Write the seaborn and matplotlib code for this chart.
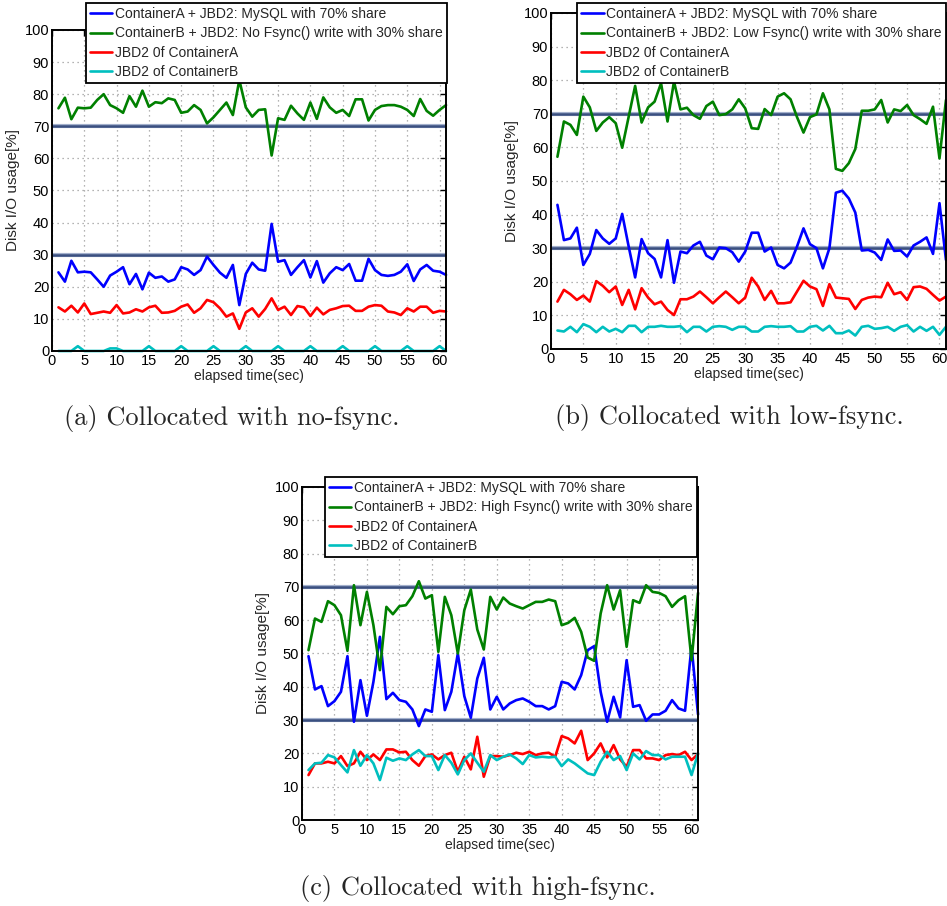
import matplotlib
matplotlib.use("Agg")
import matplotlib.pyplot as plt
import pandas as pd
import seaborn as sns

# elapsed time axis (seconds)
seconds = list(range(1, 62))

series_keys = ["ContainerA", "ContainerB", "JBD2_A", "JBD2_B"]
series_colors = ["#0000FF", "#008000", "#FF0000", "#00BFBF"]

# (a) collocated with no-fsync
a_blue = [24.5, 21.6, 28.1, 24.5, 24.7, 24.5, 22.3, 20.0, 23.5, 24.7,
          26.1, 20.8, 24.0, 19.2, 24.4, 22.8, 23.2, 21.6, 22.3, 26.1,
          25.4, 23.7, 25.2, 29.4, 26.8, 24.4, 22.8, 26.8, 14.3, 24.0,
          27.5, 25.4, 25.0, 39.6, 27.8, 28.3, 23.7, 26.1, 28.3, 22.9,
          28.0, 21.3, 24.2, 26.1, 25.2, 27.1, 21.9, 21.9, 28.7, 25.2,
          23.7, 23.4, 23.7, 24.7, 27.0, 21.8, 25.4, 26.8, 25.0, 24.7, 23.7]
a_green = [75.6, 78.9, 72.2, 75.8, 75.6, 75.8, 78.2, 80.0, 76.6, 75.6,
           74.2, 79.4, 76.1, 81.1, 76.1, 77.5, 77.2, 78.7, 78.2, 74.2,
           74.6, 76.6, 75.1, 70.9, 72.8, 75.1, 77.4, 73.5, 84.4, 75.9,
           73.0, 75.1, 75.3, 60.9, 72.5, 72.0, 76.4, 74.0, 72.0, 77.4,
           72.3, 79.0, 75.9, 74.2, 75.1, 73.2, 78.4, 78.4, 71.8, 75.1,
           76.3, 76.6, 76.6, 76.1, 75.1, 73.2, 78.5, 74.8, 73.3, 75.1, 76.6]
a_red = [13.6, 12.3, 14.1, 12.0, 14.8, 11.5, 11.9, 12.3, 11.9, 14.3,
         11.7, 12.0, 13.0, 12.3, 13.6, 14.1, 11.9, 12.0, 12.5, 13.8,
         14.5, 11.9, 13.3, 15.9, 15.2, 13.3, 10.7, 11.7, 6.9, 12.0,
         13.3, 10.7, 13.1, 16.4, 12.8, 13.8, 11.2, 14.0, 13.6, 10.9,
         13.5, 11.4, 12.8, 13.3, 14.0, 14.1, 12.5, 12.5, 13.8, 14.3,
         14.1, 12.3, 12.0, 11.2, 13.3, 12.3, 13.8, 13.8, 11.9, 12.5, 12.3]
a_cyan = [0, 0, 0, 1.5, 0, 0, 0, 0, 0.8, 0.8,
          0, 0, 0, 0, 1.5, 0, 0, 0, 0, 1.5,
          0, 0, 0, 0, 1.5, 0, 0, 0, 0, 1.5,
          0, 0, 0, 0, 1.5, 0, 0, 0, 0, 1.5,
          0, 0, 0, 0, 1.5, 0, 0, 0, 0, 1.5,
          0, 0, 0, 0, 1.5, 0, 0, 0, 0, 1.5, 0]

# (b) collocated with low-fsync
b_blue = [42.9, 32.4, 32.9, 36.1, 25.0, 28.3, 35.4, 32.9, 31.3, 32.9,
          40.2, 30.5, 21.3, 32.7, 28.5, 26.8, 21.3, 32.4, 19.7, 29.0,
          28.5, 30.8, 31.9, 27.8, 26.7, 30.2, 30.0, 28.8, 26.0, 29.0,
          34.6, 34.6, 29.0, 30.2, 25.0, 24.0, 25.7, 30.5, 35.9, 31.2,
          30.0, 24.0, 30.0, 46.5, 47.1, 44.8, 40.6, 29.3, 29.5, 28.7,
          26.5, 32.6, 29.2, 29.3, 27.5, 30.8, 31.9, 33.2, 28.3, 43.4, 26.5]
b_green = [57.2, 67.7, 66.7, 63.7, 75.1, 71.9, 64.9, 67.4, 69.0, 67.2,
           59.9, 69.1, 78.3, 67.4, 71.9, 73.6, 79.1, 67.7, 79.6, 71.3,
           71.8, 69.6, 68.5, 72.3, 73.6, 69.6, 69.9, 71.3, 74.3, 71.6,
           65.7, 65.5, 71.4, 69.6, 75.1, 76.1, 74.3, 69.0, 64.4, 69.0,
           69.8, 76.1, 71.3, 53.6, 53.0, 55.3, 59.5, 70.9, 70.9, 71.3,
           74.1, 67.4, 71.3, 70.8, 72.6, 69.6, 68.4, 67.0, 72.1, 56.7, 74.1]
b_red = [14.1, 17.6, 16.3, 14.6, 15.9, 14.1, 20.2, 18.8, 16.9, 18.6,
         13.1, 17.6, 11.8, 18.1, 15.3, 13.3, 14.1, 11.6, 10.1, 14.8,
         14.8, 15.6, 17.1, 15.4, 13.6, 15.4, 17.1, 15.4, 13.6, 15.3,
         21.2, 18.6, 14.6, 17.3, 13.6, 13.6, 13.9, 17.1, 20.3, 18.6,
         17.8, 12.8, 19.3, 15.3, 15.1, 14.9, 11.9, 14.6, 15.3, 15.6,
         15.4, 19.7, 16.3, 16.9, 14.6, 18.4, 18.6, 17.9, 16.1, 14.4, 15.6]
b_cyan = [5.5, 5.2, 6.6, 5.0, 7.4, 6.6, 5.0, 6.6, 5.2, 6.0,
          5.0, 6.9, 6.9, 5.0, 6.6, 6.6, 6.9, 6.6, 6.6, 6.8,
          5.0, 6.6, 6.6, 5.2, 6.6, 6.8, 6.6, 5.7, 6.6, 6.6,
          5.2, 5.2, 6.6, 6.8, 6.6, 6.6, 6.8, 5.2, 5.2, 6.6,
          6.9, 5.5, 6.9, 4.7, 4.7, 5.5, 4.0, 6.6, 6.9, 6.0,
          6.2, 6.6, 5.4, 6.6, 7.1, 5.2, 6.6, 5.4, 6.6, 4.2, 6.6]

# (c) collocated with high-fsync
c_blue = [49.2, 39.2, 40.2, 34.2, 35.7, 38.5, 49.2, 29.5, 42.0, 31.3,
          41.5, 55.0, 36.3, 38.2, 36.0, 35.5, 33.2, 28.2, 33.2, 32.5,
          49.5, 33.0, 38.5, 50.0, 37.2, 30.7, 42.5, 48.7, 33.2, 37.0,
          33.2, 35.0, 36.0, 36.5, 35.5, 34.2, 34.2, 33.2, 34.2, 41.5,
          41.0, 39.2, 43.5, 51.0, 52.2, 38.5, 29.5, 37.0, 30.8, 48.0,
          34.0, 34.5, 29.8, 31.7, 31.7, 32.8, 36.0, 33.5, 32.8, 52.2, 31.7]
c_green = [51.0, 60.5, 59.5, 65.7, 64.5, 61.5, 50.8, 70.5, 58.5, 68.5,
           58.5, 45.0, 64.0, 61.8, 64.2, 64.5, 67.2, 71.7, 66.5, 67.5,
           50.5, 67.0, 61.5, 50.0, 63.0, 69.2, 57.2, 51.2, 67.0, 63.2,
           66.8, 65.0, 64.2, 63.5, 64.5, 65.5, 65.5, 66.2, 65.7, 58.5,
           59.2, 60.7, 56.5, 48.8, 47.8, 62.0, 70.5, 63.2, 69.0, 52.0,
           66.0, 65.2, 70.5, 68.5, 68.2, 67.2, 64.0, 66.0, 67.2, 48.0, 68.2]
c_red = [13.5, 17.0, 17.0, 17.5, 17.0, 19.2, 16.2, 17.0, 20.5, 18.0,
         19.7, 18.0, 21.2, 21.2, 20.3, 20.5, 18.0, 16.3, 19.2, 19.7,
         18.2, 19.5, 20.2, 14.5, 19.0, 15.2, 25.0, 13.0, 19.2, 19.2,
         19.0, 19.5, 20.2, 19.8, 20.5, 19.5, 20.0, 20.2, 19.0, 25.2,
         24.5, 23.0, 26.8, 18.0, 20.0, 23.0, 18.8, 22.5, 18.2, 16.0,
         21.0, 21.0, 18.5, 18.5, 18.0, 19.5, 19.8, 19.5, 20.5, 18.0, 19.8]
c_cyan = [15.0, 17.0, 17.2, 19.5, 18.8, 16.5, 14.3, 21.0, 16.3, 19.5,
          17.0, 12.0, 18.7, 17.8, 18.5, 18.0, 19.7, 21.0, 19.2, 19.2,
          15.0, 19.5, 17.2, 13.7, 18.0, 20.0, 17.2, 14.5, 19.5, 18.0,
          19.0, 19.7, 18.5, 16.8, 19.5, 18.8, 19.0, 18.8, 19.0, 16.2,
          18.2, 17.0, 15.5, 14.0, 13.5, 17.5, 20.5, 18.0, 19.2, 15.0,
          20.0, 18.2, 20.7, 19.5, 19.5, 18.2, 19.0, 19.0, 19.0, 13.5, 20.0]

# share targets drawn as reference lines
share_levels = [30, 70]

legend_a = ["ContainerA + JBD2: MySQL with 70% share",
            "ContainerB + JBD2: No Fsync() write with 30% share",
            "JBD2 0f ContainerA",
            "JBD2 of ContainerB"]
legend_b = ["ContainerA + JBD2: MySQL with 70% share",
            "ContainerB + JBD2: Low Fsync() write with 30% share",
            "JBD2 0f ContainerA",
            "JBD2 of ContainerB"]
legend_c = ["ContainerA + JBD2: MySQL with 70% share",
            "ContainerB + JBD2: High Fsync() write with 30% share",
            "JBD2 0f ContainerA",
            "JBD2 of ContainerB"]

captions = ["(a) Collocated with no-fsync.",
            "(b) Collocated with low-fsync.",
            "(c) Collocated with high-fsync."]

x_ticks = list(range(0, 61, 5))
y_ticks = list(range(0, 101, 10))

sns.set_theme(style="white")
plt.rcParams["font.family"] = ["Liberation Sans", "DejaVu Sans"]

fig = plt.figure(figsize=(9.47, 9.06), dpi=100)

panels = [
    dict(rect=[0.0549, 0.6126, 0.4161, 0.3543], data=[a_blue, a_green, a_red, a_cyan],
         labels=legend_a, anchor=(0.472, 0.9967), caption=captions[0], cap_xy=(0.245, 0.5386)),
    dict(rect=[0.5818, 0.6148, 0.4171, 0.3709], data=[b_blue, b_green, b_red, b_cyan],
         labels=legend_b, anchor=(0.999, 0.9967), caption=captions[1], cap_xy=(0.770, 0.5397)),
    dict(rect=[0.3189, 0.0949, 0.4182, 0.3676], data=[c_blue, c_green, c_red, c_cyan],
         labels=legend_c, anchor=(0.736, 0.4735), caption=captions[2], cap_xy=(0.505, 0.0188)),
]

for p in panels:
    ax = fig.add_axes(p["rect"])
    rows = []
    for key, vals in zip(series_keys, p["data"]):
        for t, v in zip(seconds, vals):
            rows.append({"t": t, "usage": v, "series": key})
    df = pd.DataFrame(rows)

    for lvl in share_levels:
        ax.axhline(lvl, color="#A3B0CC", linewidth=3.0, zorder=1.4)
        ax.axhline(lvl, color="#3A4F80", linewidth=1.8, zorder=1.5)

    sns.lineplot(data=df, x="t", y="usage", hue="series", hue_order=series_keys,
                 palette=series_colors, linewidth=1.9, legend=False, ax=ax,
                 estimator=None, sort=False, zorder=2)
    data_lines = ax.lines[len(share_levels) * 2:]
    for ln in data_lines:
        ln.set_clip_on(False)

    ax.set_xlim(0, 61)
    ax.set_ylim(0, 100)
    ax.set_xticks(x_ticks)
    ax.set_yticks(y_ticks)
    ax.grid(True, linestyle=(0, (1, 3)), color="#9a9a9a", linewidth=0.9)
    ax.set_axisbelow(True)
    ax.tick_params(direction="in", length=4, width=1, top=True, right=True,
                   labelsize=10.5, pad=2, colors="black")
    for sp in ax.spines.values():
        sp.set_color("black")
        sp.set_linewidth(1.4)
    ax.set_xlabel("elapsed time(sec)", fontsize=10, labelpad=1)
    ax.set_ylabel("Disk I/O usage[%]", fontsize=11, labelpad=3)

    leg = ax.legend(data_lines, p["labels"], loc="upper right",
                    bbox_to_anchor=p["anchor"], bbox_transform=fig.transFigure,
                    frameon=True, fancybox=False, framealpha=1, edgecolor="black",
                    fontsize=10, handlelength=1.6, handletextpad=0.2,
                    borderpad=0.3, labelspacing=0.38, borderaxespad=0)
    leg.get_frame().set_linewidth(1.3)
    leg.set_zorder(10)

    fig.text(p["cap_xy"][0], p["cap_xy"][1], p["caption"], family="cmr10",
             fontsize=19, ha="center", va="center")

fig.savefig("out.png", dpi=100)
